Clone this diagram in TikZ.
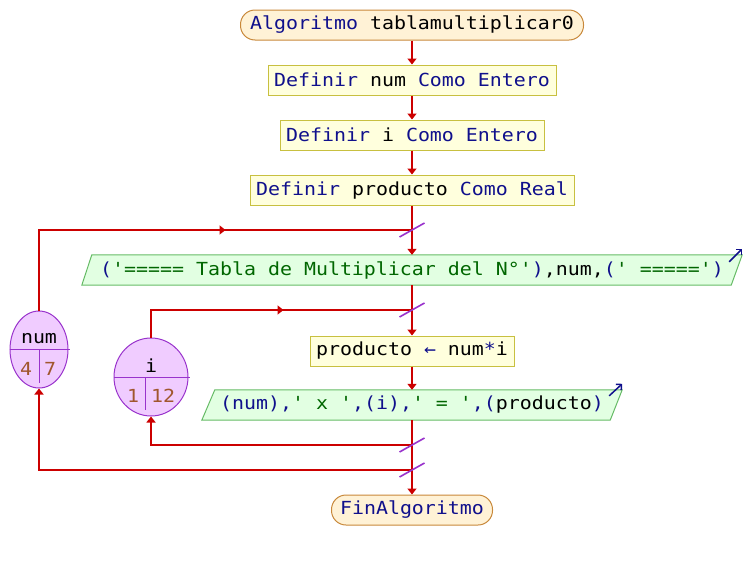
\documentclass[tikz,border=0pt]{standalone}
\usepackage{fontspec}
\setmonofont{DejaVu Sans Mono}[FakeStretch=1.107]
\usetikzlibrary{arrows.meta,decorations.markings,shapes.geometric,backgrounds}
\definecolor{flow}{HTML}{CC0000}
\definecolor{termf}{HTML}{FFF2D6}
\definecolor{termb}{HTML}{C8883A}
\definecolor{procf}{HTML}{FFFFDD}
\definecolor{procb}{HTML}{C8C040}
\definecolor{iof}{HTML}{E2FFE2}
\definecolor{iob}{HTML}{66BB66}
\definecolor{varf}{HTML}{F0CCFF}
\definecolor{varb}{HTML}{9933CC}
\definecolor{kw}{HTML}{10108C}
\definecolor{strg}{HTML}{006600}
\definecolor{numc}{HTML}{A0562D}
\newcommand\kwc[1]{\textcolor{kw}{#1}}
\newcommand\strc[1]{\textcolor{strg}{#1}}
\begin{document}
\begin{tikzpicture}[x=1pt,y=-1pt,
  font=\ttfamily\fontsize{18}{20}\selectfont,
  term/.style={draw=termb, fill=termf, rounded corners=14.5pt, minimum height=30pt, inner sep=0pt, line width=1pt},
  proc/.style={draw=procb, fill=procf, minimum height=30pt, inner sep=0pt, line width=1pt},
  iobox/.style={minimum height=30pt, inner sep=0pt},
  iodraw/.style={draw=iob, fill=iof, line width=1pt},
  varnode/.style={ellipse, draw=varb, fill=varf, inner sep=0pt, line width=1pt},
  vline/.style={draw=varb, line width=1pt},
  numtxt/.style={text=numc, inner sep=0pt},
  flowline/.style={draw=flow, color=flow, line width=1.6pt},
  arr/.style={-{Triangle[length=6pt,width=9pt]}},
  slash/.style={draw=varb, line width=1.6pt},
  outarr/.style={draw=kw, line width=1.5pt, -{Straight Barb[length=4pt,width=8pt]}}
]
\useasboundingbox (0,0) rectangle (746,560);

% main nodes
\node[term, minimum width=343pt] (start) at (412,25) {\kwc{Algoritmo} tablamultiplicar0};
\node[proc, minimum width=288pt] (d1) at (412,80) {\kwc{Definir} num \kwc{Como Entero}};
\node[proc, minimum width=264pt] (d2) at (412,135) {\kwc{Definir} i \kwc{Como Entero}};
\node[proc, minimum width=324pt] (d3) at (412,190) {\kwc{Definir} producto \kwc{Como Real}};
\node[iobox, minimum width=660pt] (o1) at (412,270) {\kwc{(}\strc{'===== Tabla de Multiplicar del N°'}\kwc{)},num,\kwc{(}\strc{' ====='}\kwc{)}};
\node[proc, minimum width=204pt] (a1) at (412,351) {producto \kwc{←} num\kwc{*}i};
\node[iobox, minimum width=420pt] (o2) at (412,405) {\kwc{(num),}\strc{' x '}\kwc{,(i),}\strc{' = '}\kwc{,(}producto\kwc{)}};
\node[term, minimum width=161pt] (fin) at (412,510) {\kwc{FinAlgoritmo}};

\begin{scope}[on background layer]
  \path[iodraw] ([xshift=10pt]o1.north west) -- (o1.north east) -- ([xshift=-11pt]o1.south east) -- (o1.south west) -- cycle;
  \path[iodraw] ([xshift=13pt]o2.north west) -- (o2.north east) -- ([xshift=-12pt]o2.south east) -- (o2.south west) -- cycle;
\end{scope}

% output indicators
\draw[outarr] ([shift={(-13,7)}]o1.north east) -- ([shift={(0,-6)}]o1.north east);
\draw[outarr] ([shift={(-13,6)}]o2.north east) -- ([shift={(0,-6)}]o2.north east);

% loop variable nodes
\node[varnode, minimum width=58pt, minimum height=77pt] (vnum) at (39,349.5) {};
\draw[vline] (vnum.west) -- ([xshift=1pt]vnum.east);
\draw[vline] (39,350) -- (39,383);
\node[inner sep=0pt] (vnumname) at (39,339) {num};
\node[numtxt] (vnuma) at (26,369) {4};
\node[numtxt] (vnumb) at (50,369) {7};

\node[varnode, minimum width=74pt, minimum height=78pt] (vi) at (151,377) {};
\draw[vline] (vi.west) -- ([xshift=1pt]vi.east);
\draw[vline] (145,377) -- (145,410);
\node[inner sep=0pt] (viname) at (151,366) {i};
\node[numtxt] (via) at (133,396) {1};
\node[numtxt] (vib) at (163,396) {12};

% junctions
\coordinate (j1) at (412,230);
\coordinate (j2) at (412,310);
\coordinate (j3) at (412,445);
\coordinate (j4) at (412,470);

% main flow
\draw[flowline, arr] (start.south) -- (d1.north);
\draw[flowline, arr] (d1.south) -- (d2.north);
\draw[flowline, arr] (d2.south) -- (d3.north);
\draw[flowline, arr] (d3.south) -- (o1.north);
\draw[flowline, arr] (o1.south) -- (a1.north);
\draw[flowline, arr] (a1.south) -- (o2.north);
\draw[flowline, arr] (o2.south) -- (fin.north);

% loops
\draw[flowline, postaction={decorate}, decoration={markings, mark=at position 267pt with {\arrow{Triangle[length=6pt,width=9pt]}}}] (vnum.north) |- (j1);
\draw[flowline, postaction={decorate}, decoration={markings, mark=at position 160pt with {\arrow{Triangle[length=6pt,width=9pt]}}}] (vi.north) |- (j2);
\draw[flowline, arr] (j3) -| (vi.south);
\draw[flowline, arr] (j4) -| (vnum.south);

% slashes
\foreach \j in {j1,j2,j3,j4}{
  \draw[slash] ([shift={(-12.5,7)}]\j) -- ([shift={(12.5,-7)}]\j);
}
\end{tikzpicture}
\end{document}
